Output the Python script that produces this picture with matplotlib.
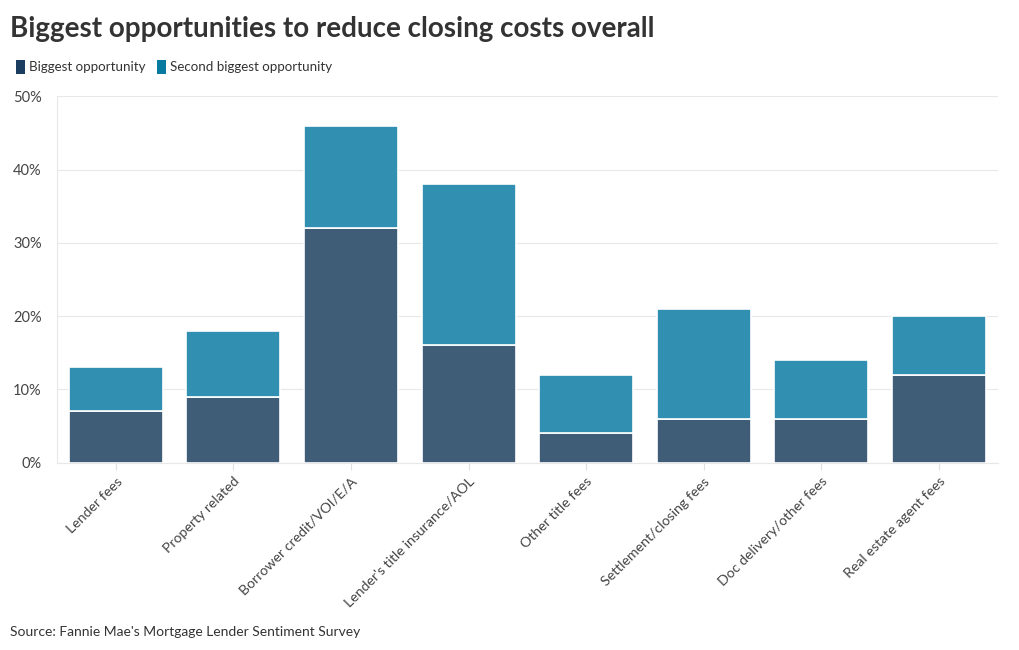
import matplotlib.pyplot as plt
from matplotlib.patches import Patch
import numpy as np

categories = ['Lender fees', 'Property related', 'Borrower credit/VOI/E/A',
              "Lender's title insurance/AOL", 'Other title fees',
              'Settlement/closing fees', 'Doc delivery/other fees',
              'Real estate agent fees']
biggest = [7, 9, 32, 16, 4, 6, 6, 12]
second = [6, 9, 14, 22, 8, 15, 8, 8]
y_ticks = [0, 10, 20, 30, 40, 50]

plt.rcParams['font.family'] = ['Lato', 'DejaVu Sans']

fig = plt.figure(figsize=(10.2, 6.5), dpi=100)
ax = fig.add_axes([0.056, 0.288, 0.922, 0.564])

x = np.arange(len(categories))
ax.bar(x, biggest, width=0.8, color='#405d78', edgecolor='white', linewidth=1.2, zorder=3)
ax.bar(x, second, width=0.8, bottom=biggest, color='#3190b1', edgecolor='white', linewidth=1.2, zorder=3)

ax.set_xlim(-0.5, len(categories) - 0.5)
ax.set_ylim(0, 50)
ax.set_yticks(y_ticks)
ax.set_yticklabels([f'{v}%' for v in y_ticks], color='#444444', fontsize=10.5)
ax.set_xticks(x)
ax.set_xticklabels(categories, rotation=45, ha='right', rotation_mode='anchor',
                   color='#444444', fontsize=10.2)
ax.grid(axis='y', color='#e8e8e8', linewidth=0.8, zorder=0)
for s in ['top', 'right']:
    ax.spines[s].set_visible(False)
ax.spines['left'].set_color('#e8e8e8')
ax.spines['bottom'].set_color('#e8e8e8')
ax.tick_params(axis='y', length=0, pad=11)
ax.tick_params(axis='x', length=5, color='#e0e0e0', pad=4)

fig.text(0.01, 0.955, 'Biggest opportunities to reduce closing costs overall',
         fontsize=20, fontweight='bold', color='#333333', va='center')

handles = [Patch(facecolor='#1b3d5f', label='Biggest opportunity'),
           Patch(facecolor='#087aa0', label='Second biggest opportunity')]
fig.legend(handles=handles, loc='center left', bbox_to_anchor=(0.004, 0.897),
           ncol=2, frameon=False, fontsize=9.6, handlelength=0.7, handleheight=1.2,
           handletextpad=0.3, columnspacing=0.8, labelcolor='#333333')

fig.text(0.01, 0.028, "Source: Fannie Mae's Mortgage Lender Sentiment Survey",
         fontsize=10, color='#333333', va='center')

fig.savefig('out.png', dpi=100)
